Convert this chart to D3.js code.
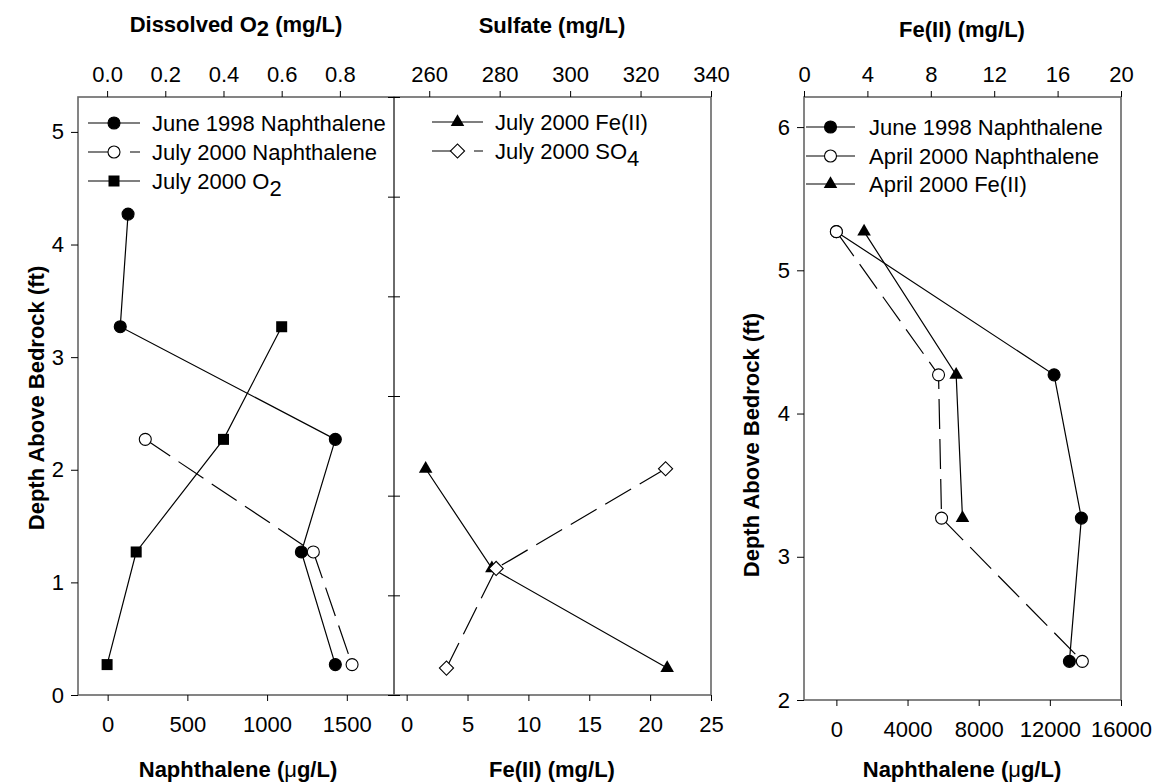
<!DOCTYPE html>
<html>
<head>
<meta charset="utf-8">
<script src="https://cdn.jsdelivr.net/npm/d3@7"></script>
<style>
    body { margin: 0; background: #fff; }
    svg text { font-family: "Liberation Sans", Arial, sans-serif; fill: #000; }
</style>
</head>
<body>
<div id="chart"></div>
<script>
// ============================================
// 데이터
// ============================================

// 왼쪽 패널 (나프탈렌 / 용존 산소)
const leftDepths = [4.27, 3.27, 2.27, 1.27, 0.27];
const june1998Naph = [128, 79, 1428, 1215, 1428];
const july2000NaphDepths = [2.27, 1.27, 0.27];
const july2000Naph = [236, 1290, 1533];
const july2000O2Depths = [3.27, 2.27, 1.27, 0.27];
const july2000O2 = [0.60, 0.40, 0.10, 0.0];

// 가운데 패널 (Fe(II) / 황산염)
const midDepths = [2.27, 1.27, 0.27];
const july2000FeII = [1.56, 7.0, 21.4];
const july2000SO4 = [327.1, 279, 264.9];

// 오른쪽 패널 (나프탈렌 / Fe(II))
const rightDepths = [5.27, 4.27, 3.27, 2.27];
const june1998NaphR = [0, 12238, 13773, 13100];
const april2000Naph = [0, 5743, 5912, 13827];
const april2000FeDepths = [5.27, 4.27, 3.27];
const april2000FeII = [3.79, 9.6, 10.0];

// 눈금
const naphTicksL = [0, 500, 1000, 1500];
const o2Ticks = [0, 0.2, 0.4, 0.6, 0.8];
const depthTicksL = [0, 1, 2, 3, 4, 5];
const feTicksM = [0, 5, 10, 15, 20, 25];
const so4Ticks = [260, 280, 300, 320, 340];
const depthTicksM = [0, 1, 2, 3, 4, 5, 6];
const naphTicksR = [0, 4000, 8000, 12000, 16000];
const feTicksR = [0, 4, 8, 12, 16, 20];
const depthTicksR = [2, 3, 4, 5, 6];

// ============================================
// 그리기
// ============================================
const FONT = 22;
const DASH = '30,10';

const svg = d3.select('#chart')
    .append('svg')
    .attr('width', 1156)
    .attr('height', 782);

// 스케일
const xNaphL = d3.scaleLinear().domain([-186, 1796]).range([78, 394]);
const xO2 = d3.scaleLinear().domain([-0.1, 0.986]).range([78, 394]);
const yL = d3.scaleLinear().domain([0, 5.31]).range([695, 97]);

const xFeM = d3.scaleLinear().domain([-1.04, 25]).range([394, 711]);
const xSO4 = d3.scaleLinear().domain([250, 340]).range([394, 711]);
const yM = d3.scaleLinear().domain([0, 6]).range([695, 97]);

const xNaphR = d3.scaleLinear().domain([-1820, 16000]).range([804, 1121]);
const xFeR = d3.scaleLinear().domain([0, 20]).range([804, 1121]);
const yR = d3.scaleLinear().domain([2, 6.21]).range([700, 97]);

// 마커
function marker(g, type, x, y) {
    if (type === 'dot' || type === 'ring') {
        g.append('circle')
            .attr('cx', x).attr('cy', y).attr('r', 6)
            .attr('fill', type === 'dot' ? '#000' : '#fff')
            .attr('stroke', '#000').attr('stroke-width', 1.1);
    } else if (type === 'square') {
        g.append('rect')
            .attr('x', x - 5.5).attr('y', y - 5.5)
            .attr('width', 11).attr('height', 11)
            .attr('fill', '#000');
    } else if (type === 'triangle') {
        g.append('path')
            .attr('d', d3.symbol(d3.symbolTriangle, 80)())
            .attr('transform', `translate(${x},${y})`)
            .attr('fill', '#000');
    } else if (type === 'diamond') {
        g.append('rect')
            .attr('x', -5).attr('y', -5).attr('width', 10).attr('height', 10)
            .attr('transform', `translate(${x},${y}) rotate(45)`)
            .attr('fill', '#fff').attr('stroke', '#000').attr('stroke-width', 1.1);
    }
}

// 시리즈 (선 + 마커)
function drawSeries(values, depths, xs, ys, type, dashed) {
    const pts = values.map((v, i) => [xs(v), ys(depths[i])]);
    const g = svg.append('g');
    g.append('path')
        .datum(pts)
        .attr('fill', 'none')
        .attr('stroke', '#000')
        .attr('stroke-width', 1.2)
        .attr('stroke-dasharray', dashed ? DASH : null)
        .attr('d', d3.line());
    pts.forEach(p => marker(g, type, p[0], p[1]));
}

// 축 스타일
function styleAxis(g) {
    g.select('.domain').remove();
    g.selectAll('.tick line').attr('stroke', '#000').attr('stroke-width', 1);
    g.selectAll('.tick text').style('font-size', FONT + 'px').attr('fill', '#000');
}

function frame(x0, x1, y0, y1) {
    svg.append('rect')
        .attr('x', x0).attr('y', y0)
        .attr('width', x1 - x0).attr('height', y1 - y0)
        .attr('fill', 'none')
        .attr('stroke', '#666')
        .attr('stroke-width', 1.6);
}

// 텍스트 (아래첨자 지원)
function label(x, y, parts, opts = {}) {
    const t = svg.append('text')
        .attr('x', x).attr('y', y)
        .attr('text-anchor', opts.anchor || 'start')
        .style('font-size', FONT + 'px')
        .style('font-weight', opts.bold ? 'bold' : 'normal');
    if (opts.rotate) t.attr('transform', `rotate(-90,${x},${y})`);
    parts.forEach(p => {
        const s = t.append('tspan').text(p.t);
        if (p.sub) s.attr('dy', opts.subShift || 6);
        if (p.back) s.attr('dy', -(opts.subShift || 6));
        if (p.normal) s.style('font-weight', 'normal');
    });
    return t;
}

// 범례 행
function legendRow(x1, x2, y, type, dash, textX, parts) {
    const g = svg.append('g');
    g.append('line')
        .attr('x1', x1).attr('x2', x2).attr('y1', y).attr('y2', y)
        .attr('stroke', '#000').attr('stroke-width', 1.2)
        .attr('stroke-dasharray', dash);
    marker(g, type, (x1 + x2) / 2, y);
    label(textX, y + 8, parts, { subShift: 7 });
}

// ---------- 왼쪽 패널 ----------
frame(78, 394, 97, 695);
svg.append('g').attr('transform', 'translate(0,695)')
    .call(d3.axisBottom(xNaphL).tickValues(naphTicksL).tickSize(6).tickPadding(15).tickFormat(d3.format('d')))
    .call(styleAxis);
svg.append('g').attr('transform', 'translate(0,97)')
    .call(d3.axisTop(xO2).tickValues(o2Ticks).tickSize(6).tickPadding(9).tickFormat(d3.format('.1f')))
    .call(styleAxis);
svg.append('g').attr('transform', 'translate(78,0)')
    .call(d3.axisLeft(yL).tickValues(depthTicksL).tickSize(7).tickPadding(7).tickFormat(d3.format('d')))
    .call(styleAxis);

drawSeries(june1998Naph, leftDepths, xNaphL, yL, 'dot', false);
drawSeries(july2000Naph, july2000NaphDepths, xNaphL, yL, 'ring', true);
drawSeries(july2000O2, july2000O2Depths, xO2, yL, 'square', false);

legendRow(88, 140, 123, 'dot', null, 152, [{ t: 'June 1998 Naphthalene' }]);
legendRow(88, 140, 152, 'ring', '20,22', 152, [{ t: 'July 2000 Naphthalene' }]);
legendRow(88, 140, 181, 'square', null, 152, [{ t: 'July 2000 O' }, { t: '2', sub: true }]);

label(236, 32, [{ t: 'Dissolved O' }, { t: '2', sub: true }, { t: ' (mg/L)', back: true }], { anchor: 'middle', bold: true, subShift: 4 });
label(238, 777, [{ t: 'Naphthalene (' }, { t: 'μ', normal: true }, { t: 'g/L)' }], { anchor: 'middle', bold: true });
label(44, 398, [{ t: 'Depth Above Bedrock (ft)' }], { anchor: 'middle', bold: true, rotate: true });

// ---------- 가운데 패널 ----------
frame(394, 711, 97, 695);
svg.append('g').attr('transform', 'translate(0,695)')
    .call(d3.axisBottom(xFeM).tickValues(feTicksM).tickSize(6).tickPadding(15).tickFormat(d3.format('d')))
    .call(styleAxis);
svg.append('g').attr('transform', 'translate(0,97)')
    .call(d3.axisTop(xSO4).tickValues(so4Ticks).tickSize(6).tickPadding(9).tickFormat(d3.format('d')))
    .call(styleAxis);
svg.append('g').attr('transform', 'translate(400,0)')
    .call(d3.axisLeft(yM).tickValues(depthTicksM).tickSize(12).tickFormat(''))
    .call(styleAxis);

drawSeries(july2000FeII, midDepths, xFeM, yM, 'triangle', false);
drawSeries(july2000SO4, midDepths, xSO4, yM, 'diamond', true);

legendRow(432, 483, 122, 'triangle', null, 495, [{ t: 'July 2000 Fe(II)' }]);
legendRow(432, 483, 151, 'diamond', '20,22', 495, [{ t: 'July 2000 SO' }, { t: '4', sub: true }]);

label(552, 33, [{ t: 'Sulfate (mg/L)' }], { anchor: 'middle', bold: true });
label(552, 777, [{ t: 'Fe(II) (mg/L)' }], { anchor: 'middle', bold: true });

// ---------- 오른쪽 패널 ----------
frame(804, 1121, 97, 700);
svg.append('g').attr('transform', 'translate(0,700)')
    .call(d3.axisBottom(xNaphR).tickValues(naphTicksR).tickSize(6).tickPadding(15).tickFormat(d3.format('d')))
    .call(styleAxis);
svg.append('g').attr('transform', 'translate(0,97)')
    .call(d3.axisTop(xFeR).tickValues(feTicksR).tickSize(6).tickPadding(9).tickFormat(d3.format('d')))
    .call(styleAxis);
svg.append('g').attr('transform', 'translate(804,0)')
    .call(d3.axisLeft(yR).tickValues(depthTicksR).tickSize(7).tickPadding(7).tickFormat(d3.format('d')))
    .call(styleAxis);

drawSeries(june1998NaphR, rightDepths, xNaphR, yR, 'dot', false);
drawSeries(april2000Naph, rightDepths, xNaphR, yR, 'ring', true);
drawSeries(april2000FeII, april2000FeDepths, xFeR, yR, 'triangle', false);

legendRow(806, 855, 127, 'dot', null, 869, [{ t: 'June 1998 Naphthalene' }]);
legendRow(806, 855, 156, 'ring', null, 869, [{ t: 'April 2000 Naphthalene' }]);
legendRow(806, 855, 184, 'triangle', null, 869, [{ t: 'April 2000 Fe(II)' }]);

label(962, 37, [{ t: 'Fe(II) (mg/L)' }], { anchor: 'middle', bold: true });
label(962, 777, [{ t: 'Naphthalene (' }, { t: 'μ', normal: true }, { t: 'g/L)' }], { anchor: 'middle', bold: true });
label(759, 445, [{ t: 'Depth Above Bedrock (ft)' }], { anchor: 'middle', bold: true, rotate: true });
</script>
</body>
</html>
